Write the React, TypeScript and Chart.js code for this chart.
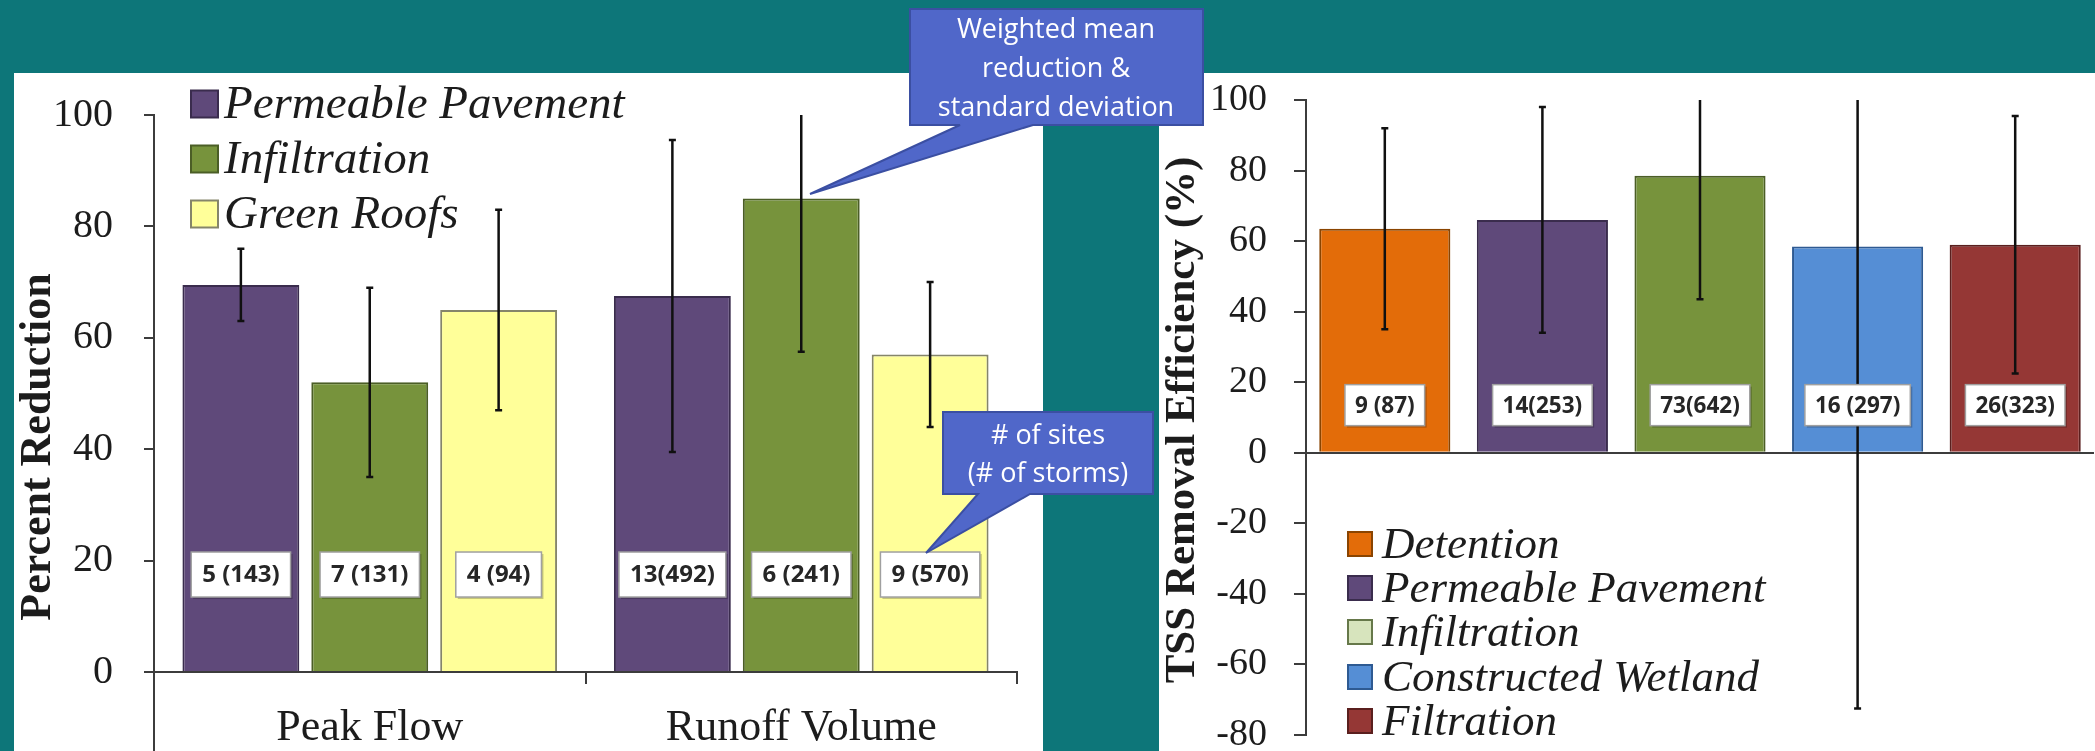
import React, { useEffect, useRef } from "react";
import { Chart, registerables } from "chart.js";

Chart.register(...registerables);

// ---------- Left chart data ----------
const flowCategories = ["Peak Flow", "Runoff Volume"];
const flowSeriesNames = ["Permeable Pavement", "Infiltration", "Green Roofs"];
const pavementMean = [69.5, 67.5];
const pavementSd = [6.5, 28];
const infiltrationMean = [52, 85];
const infiltrationSd = [17, 27.5];
const greenRoofMean = [65, 57];
const greenRoofSd = [18, 13];
const pavementCounts = ["5 (143)", "13(492)"];
const infiltrationCounts = ["7 (131)", "6 (241)"];
const greenRoofCounts = ["4 (94)", "9 (570)"];
const flowAxisTitle = "Percent Reduction";
const flowTickValues = [0, 20, 40, 60, 80, 100];

// ---------- Right chart data ----------
const tssCategories = ["Detention", "Permeable Pavement", "Infiltration", "Constructed Wetland", "Filtration"];
const tssMean = [63.5, 66, 78.5, 58.5, 59];
const tssSd = [28.5, 32, 35, 131, 36.5];
const tssCounts = ["9 (87)", "14(253)", "73(642)", "16 (297)", "26(323)"];
const tssAxisTitle = "TSS Removal Efficiency (%)";
const tssTickValues = [-80, -60, -40, -20, 0, 20, 40, 60, 80, 100];

// ---------- Callouts ----------
const calloutMeanLines = ["Weighted mean", "reduction &", "standard deviation"];
const calloutSitesLines = ["# of sites", "(# of storms)"];

// ---------- Styles ----------
const SERIF = '"Liberation Serif", "Times New Roman", serif';
const SANS = '"Open Sans", "Noto Sans", sans-serif';
const TEAL = "#0D7679";
const AXIS = "#3c3c3c";
const TEXT = "#1c1c1c";

const PURPLE = "#5F497A", PURPLE_B = "#3A2C4D";
const GREEN = "#77933C", GREEN_B = "#4B5E26";
const YELLOW = "#FFFF99", YELLOW_B = "#85856a";
const ORANGE = "#E36C09", ORANGE_B = "#8A4400";
const BLUE = "#558ED5", BLUE_B = "#2E5A92";
const RED = "#953735", RED_B = "#5A1F1E";
const PALE_GREEN = "#D7E4BD", PALE_GREEN_B = "#66784a";

type OverlayCfg = {
  sds: number[][];
  labels: string[][];
  labelLevel: number;
  labelFont: number;
  boxH: number;
  padX: number;
  title: string;
  titleX: number;
  titleY: number;
  titleSize: number;
  legend: { text: string; color: string; border: string }[];
  legendX: number;
  legendTextX: number;
  legendRows: number[];
  legendBox: number;
  legendFont: number;
  extendAxis: boolean;
};

function makeOverlay(cfg: OverlayCfg) {
  return {
    id: "overlay",
    afterDatasetsDraw(chart: any) {
      const ctx: CanvasRenderingContext2D = chart.ctx;
      const ys = chart.scales.y;
      const area = chart.chartArea;
      // error bars
      ctx.save();
      ctx.beginPath();
      ctx.rect(area.left, area.top - 2, area.right - area.left, area.bottom - area.top + 4);
      ctx.clip();
      ctx.strokeStyle = "#101010";
      ctx.lineWidth = 2.5;
      chart.data.datasets.forEach((ds: any, i: number) => {
        const meta = chart.getDatasetMeta(i);
        meta.data.forEach((bar: any, j: number) => {
          const m = ds.data[j];
          const sd = cfg.sds[i][j];
          const lo = m - sd;
          const hi = m + sd;
          const yLo = ys.getPixelForValue(Math.max(lo, ys.min));
          const yHi = ys.getPixelForValue(Math.min(hi, ys.max));
          ctx.beginPath();
          ctx.moveTo(bar.x, yLo);
          ctx.lineTo(bar.x, yHi);
          if (lo >= ys.min) {
            ctx.moveTo(bar.x - 3.5, yLo);
            ctx.lineTo(bar.x + 3.5, yLo);
          }
          if (hi <= ys.max) {
            ctx.moveTo(bar.x - 3.5, yHi);
            ctx.lineTo(bar.x + 3.5, yHi);
          }
          ctx.stroke();
        });
      });
      ctx.restore();

      // count label boxes
      ctx.save();
      ctx.font = `bold ${cfg.labelFont}px ${SANS}`;
      ctx.textAlign = "center";
      ctx.textBaseline = "middle";
      chart.data.datasets.forEach((ds: any, i: number) => {
        const meta = chart.getDatasetMeta(i);
        meta.data.forEach((bar: any, j: number) => {
          const t = cfg.labels[i][j];
          const w = ctx.measureText(t).width + cfg.padX * 2;
          const h = cfg.boxH;
          const cx = bar.x;
          const cy = ys.getPixelForValue(cfg.labelLevel);
          ctx.fillStyle = "rgba(0,0,0,0.22)";
          ctx.fillRect(cx - w / 2 + 2, cy - h / 2 + 2, w, h);
          ctx.fillStyle = "#ffffff";
          ctx.fillRect(cx - w / 2, cy - h / 2, w, h);
          ctx.strokeStyle = "#a0a0a0";
          ctx.lineWidth = 1.5;
          ctx.strokeRect(cx - w / 2, cy - h / 2, w, h);
          ctx.fillStyle = "#262626";
          ctx.fillText(t, cx, cy + 1);
        });
      });
      ctx.restore();
    },
    afterDraw(chart: any) {
      const ctx: CanvasRenderingContext2D = chart.ctx;
      const area = chart.chartArea;
      ctx.save();
      if (cfg.extendAxis) {
        ctx.strokeStyle = AXIS;
        ctx.lineWidth = 2;
        ctx.beginPath();
        ctx.moveTo(area.left, area.bottom);
        ctx.lineTo(area.left, chart.height);
        ctx.stroke();
      }
      // axis title
      ctx.save();
      ctx.translate(cfg.titleX, cfg.titleY);
      ctx.rotate(-Math.PI / 2);
      ctx.font = `bold ${cfg.titleSize}px ${SERIF}`;
      ctx.fillStyle = TEXT;
      ctx.textAlign = "center";
      ctx.textBaseline = "middle";
      ctx.fillText(cfg.title, 0, 0);
      ctx.restore();
      // legend
      ctx.font = `italic ${cfg.legendFont}px ${SERIF}`;
      ctx.textAlign = "left";
      ctx.textBaseline = "middle";
      cfg.legend.forEach((item, k) => {
        const cy = cfg.legendRows[k];
        const b = cfg.legendBox;
        ctx.fillStyle = item.color;
        ctx.fillRect(cfg.legendX, cy - b / 2, b, b);
        ctx.strokeStyle = item.border;
        ctx.lineWidth = 2;
        ctx.strokeRect(cfg.legendX, cy - b / 2, b, b);
        ctx.fillStyle = TEXT;
        ctx.fillText(item.text, cfg.legendTextX, cy + 2);
      });
      ctx.restore();
    },
  };
}

export default function App() {
  const leftRef = useRef<HTMLCanvasElement>(null);
  const rightRef = useRef<HTMLCanvasElement>(null);

  useEffect(() => {
    const left = new Chart(leftRef.current as HTMLCanvasElement, {
      type: "bar",
      data: {
        labels: flowCategories,
        datasets: [
          { label: flowSeriesNames[0], data: pavementMean, backgroundColor: PURPLE, borderColor: PURPLE_B, borderWidth: 2 },
          { label: flowSeriesNames[1], data: infiltrationMean, backgroundColor: GREEN, borderColor: GREEN_B, borderWidth: 2 },
          { label: flowSeriesNames[2], data: greenRoofMean, backgroundColor: YELLOW, borderColor: YELLOW_B, borderWidth: 2 },
        ],
      },
      options: {
        responsive: false,
        animation: false,
        layout: { padding: { top: 42, right: 26, left: 0, bottom: 0 } },
        datasets: { bar: { categoryPercentage: 0.896, barPercentage: 0.907 } },
        plugins: { legend: { display: false }, tooltip: { enabled: false }, title: { display: false } },
        scales: {
          x: {
            grid: { drawOnChartArea: false, tickLength: 12, color: AXIS, lineWidth: 2 },
            border: { color: AXIS, width: 2 },
            ticks: { font: { family: SERIF, size: 44 }, color: TEXT, padding: 18 },
            afterFit: (s: any) => { s.height = 79; s.paddingLeft = 0; s.paddingRight = 0; },
          },
          y: {
            min: 0,
            max: 100,
            afterBuildTicks: (s: any) => { s.ticks = flowTickValues.map((v) => ({ value: v })); },
            ticks: { font: { family: SERIF, size: 40 }, color: TEXT, padding: 31 },
            grid: { drawOnChartArea: false, tickLength: 10, color: AXIS, lineWidth: 2 },
            border: { color: AXIS, width: 2 },
            afterFit: (s: any) => { s.width = 140; s.paddingTop = 0; s.paddingBottom = 0; },
          },
        },
      },
      plugins: [
        makeOverlay({
          sds: [pavementSd, infiltrationSd, greenRoofSd],
          labels: [pavementCounts, infiltrationCounts, greenRoofCounts],
          labelLevel: 17.5,
          labelFont: 24,
          boxH: 45,
          padX: 11,
          title: flowAxisTitle,
          titleX: 25,
          titleY: 374,
          titleSize: 44,
          legend: [
            { text: flowSeriesNames[0], color: PURPLE, border: PURPLE_B },
            { text: flowSeriesNames[1], color: GREEN, border: GREEN_B },
            { text: flowSeriesNames[2], color: YELLOW, border: YELLOW_B },
          ],
          legendX: 177,
          legendTextX: 210,
          legendRows: [31, 86, 141],
          legendBox: 27,
          legendFont: 47,
          extendAxis: true,
        }),
      ],
    } as any);

    const right = new Chart(rightRef.current as HTMLCanvasElement, {
      type: "bar",
      data: {
        labels: tssCategories,
        datasets: [
          {
            label: "TSS",
            data: tssMean,
            backgroundColor: [ORANGE, PURPLE, GREEN, BLUE, RED],
            borderColor: [ORANGE_B, PURPLE_B, GREEN_B, BLUE_B, RED_B],
            borderWidth: 2,
          },
        ],
      },
      options: {
        responsive: false,
        animation: false,
        layout: { padding: { top: 27, right: 1, left: 0, bottom: 16 } },
        datasets: { bar: { categoryPercentage: 1, barPercentage: 0.832 } },
        plugins: { legend: { display: false }, tooltip: { enabled: false }, title: { display: false } },
        scales: {
          x: { display: false },
          y: {
            min: -80,
            max: 100,
            afterBuildTicks: (s: any) => { s.ticks = tssTickValues.map((v) => ({ value: v })); },
            ticks: { font: { family: SERIF, size: 38 }, color: TEXT, padding: 27 },
            grid: {
              drawOnChartArea: true,
              tickLength: 12,
              lineWidth: 2,
              color: (c: any) => (c.tick && c.tick.value === 0 ? AXIS : "rgba(0,0,0,0)"),
              tickColor: AXIS,
            },
            border: { color: AXIS, width: 2 },
            afterFit: (s: any) => { s.width = 147; s.paddingTop = 0; s.paddingBottom = 0; },
          },
        },
      },
      plugins: [
        makeOverlay({
          sds: [tssSd],
          labels: [tssCounts],
          labelLevel: 13.5,
          labelFont: 22.5,
          boxH: 41,
          padX: 10,
          title: tssAxisTitle,
          titleX: 24,
          titleY: 347,
          titleSize: 43,
          legend: [
            { text: tssCategories[0], color: ORANGE, border: ORANGE_B },
            { text: tssCategories[1], color: PURPLE, border: PURPLE_B },
            { text: tssCategories[2], color: PALE_GREEN, border: PALE_GREEN_B },
            { text: tssCategories[3], color: BLUE, border: BLUE_B },
            { text: tssCategories[4], color: RED, border: RED_B },
          ],
          legendX: 189,
          legendTextX: 223,
          legendRows: [471, 515, 559, 604, 648],
          legendBox: 24,
          legendFont: 45,
          extendAxis: false,
        }),
      ],
    } as any);

    return () => {
      left.destroy();
      right.destroy();
    };
  }, []);

  return (
    <div style={{ position: "fixed", left: 0, top: 0, width: 2095, height: 751, background: TEAL, overflow: "hidden" }}>
      <div style={{ position: "absolute", left: 14, top: 73, width: 1029, height: 678, background: "#fff" }}>
        <canvas ref={leftRef} width={1029} height={678} style={{ display: "block" }} />
      </div>
      <div style={{ position: "absolute", left: 1159, top: 73, width: 936, height: 678, background: "#fff" }}>
        <canvas ref={rightRef} width={936} height={678} style={{ display: "block" }} />
      </div>
      <svg width={2095} height={751} style={{ position: "absolute", left: 0, top: 0, pointerEvents: "none" }}>
        <path d="M910,9 H1203 V125 H1033 L810,194 L960,125 H910 Z" fill="#5067C9" stroke="#3B4FA2" strokeWidth={2} />
        <text fontFamily={SANS} fontSize={27} fill="#ffffff" textAnchor="middle">
          {calloutMeanLines.map((t, i) => (
            <tspan key={i} x={1056} y={38 + i * 39}>{t}</tspan>
          ))}
        </text>
        <path d="M943,412 H1153 V494 H1030 L926,553 L978,494 H943 Z" fill="#5067C9" stroke="#3B4FA2" strokeWidth={2} />
        <text fontFamily={SANS} fontSize={27} fill="#ffffff" textAnchor="middle">
          {calloutSitesLines.map((t, i) => (
            <tspan key={i} x={1048} y={444 + i * 38}>{t}</tspan>
          ))}
        </text>
      </svg>
    </div>
  );
}
